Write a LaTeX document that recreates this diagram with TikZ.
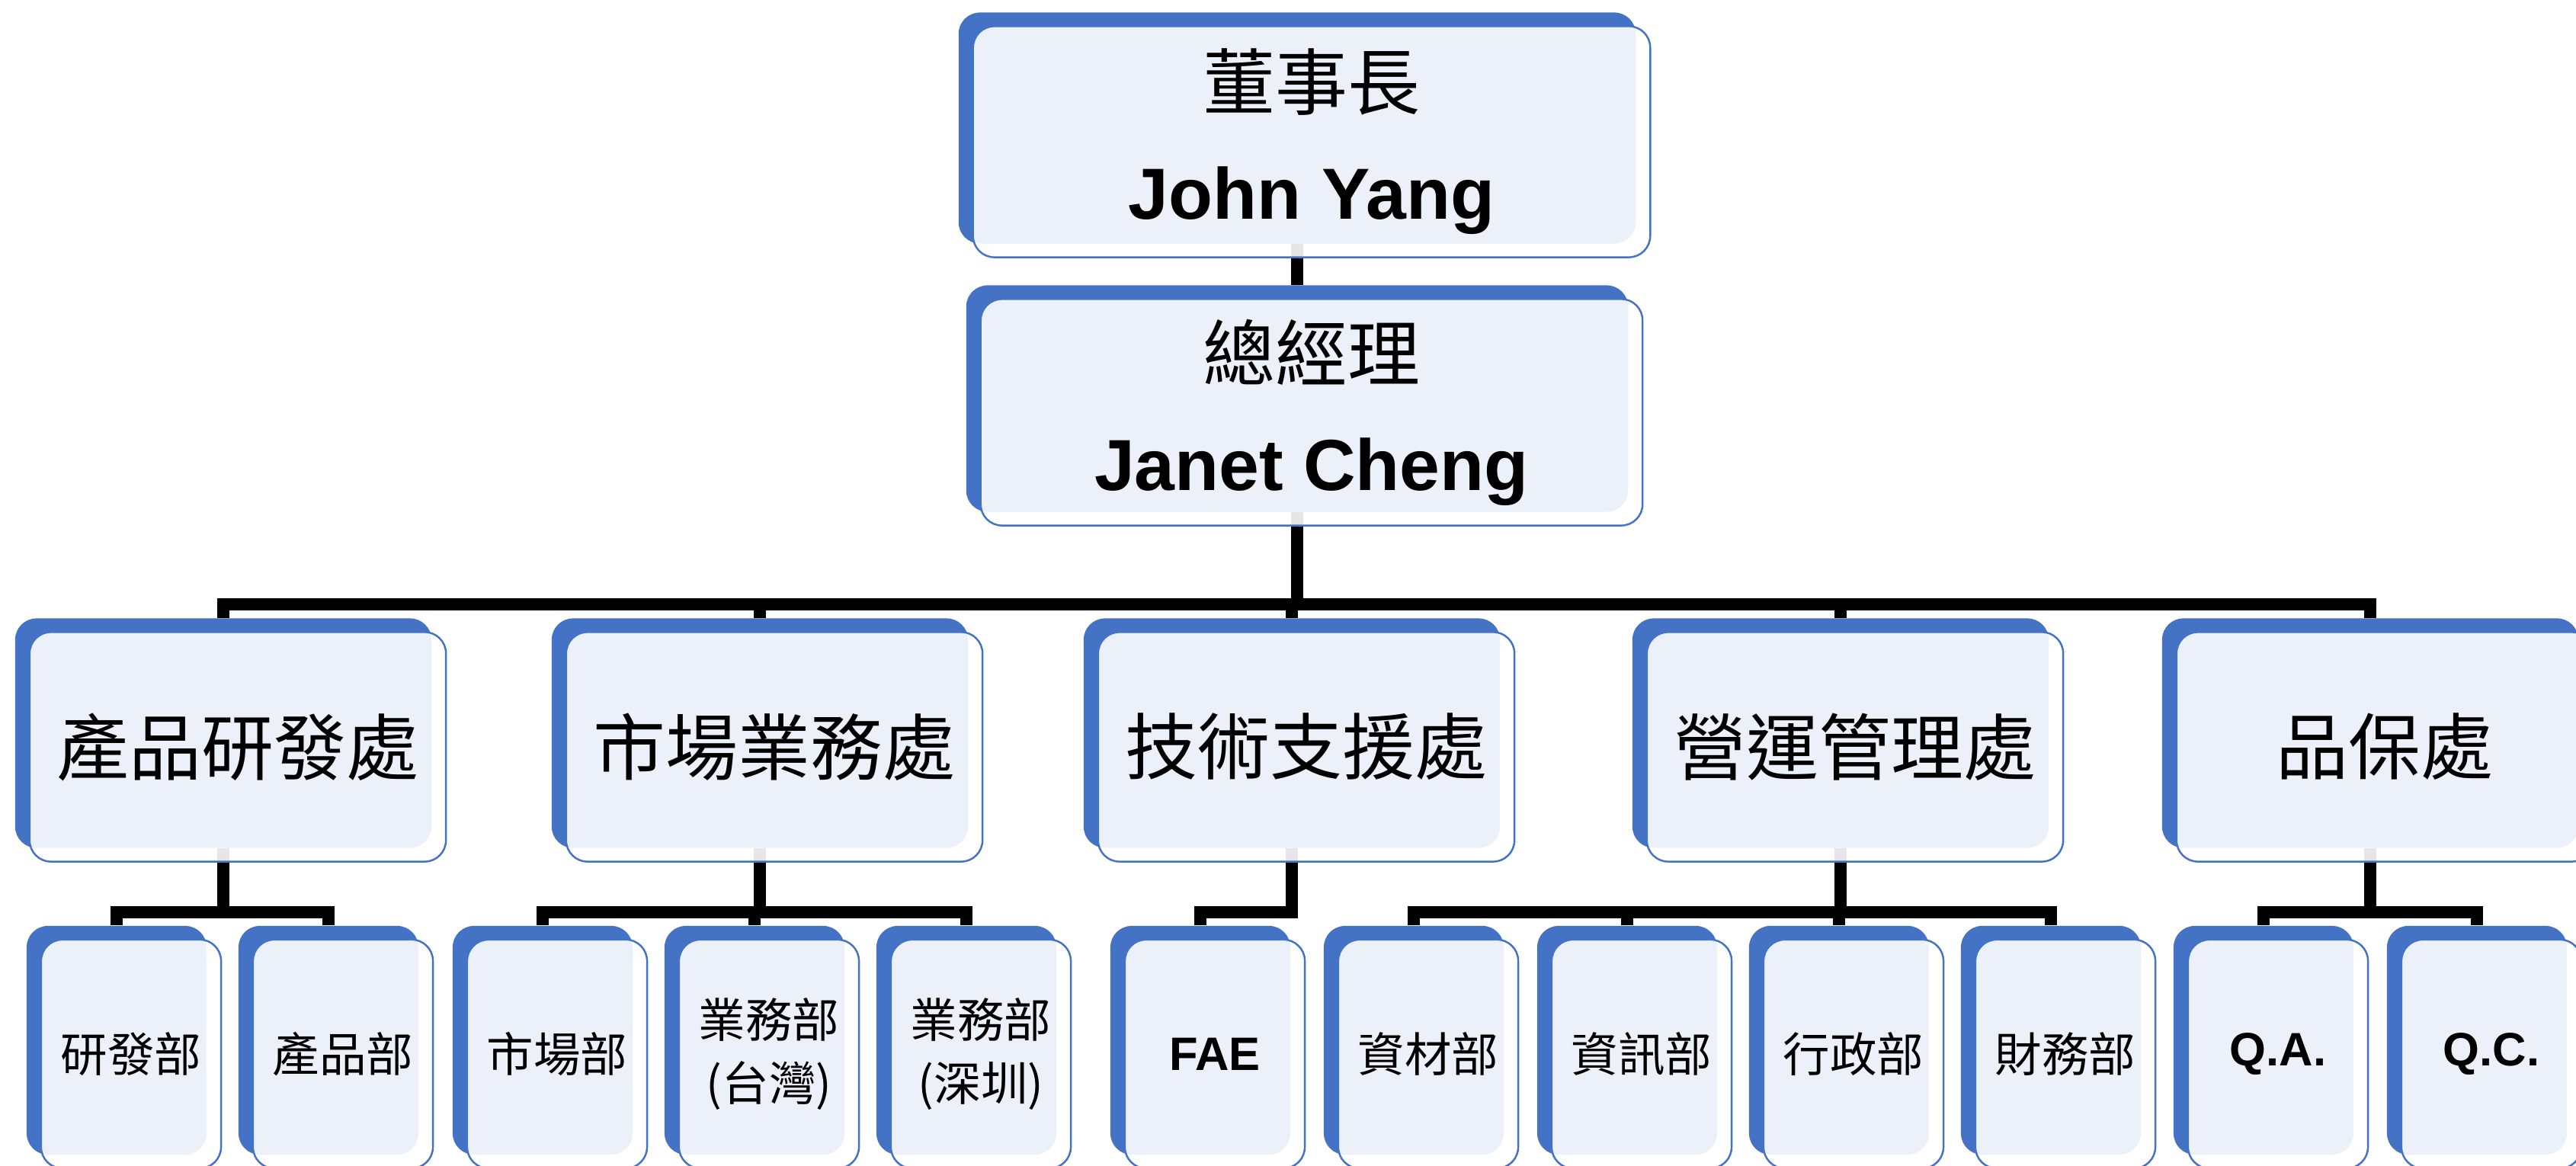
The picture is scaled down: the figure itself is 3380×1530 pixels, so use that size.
\documentclass[tikz,border=0pt]{standalone}
\usepackage{fontspec}
\setmainfont{Liberation Sans}
\newfontfamily\cjk{Noto Sans CJK TC}
\usetikzlibrary{calc}
\definecolor{boxblue}{HTML}{4472C4}
\pgfdeclarelayer{back}
\pgfdeclarelayer{links}
\pgfsetlayers{back,links,main}
\tikzset{
  blueback/.style={fill=boxblue, draw=none, rounded corners=0.28cm, inner sep=0pt, rectangle},
  frontbox/.style={fill=white, fill opacity=0.9, text opacity=1, draw=boxblue, line width=0.7pt,
    rounded corners=0.28cm, inner sep=0pt, rectangle, align=center, text=black},
  bigtext/.style={font=\fontsize{27pt}{41pt}\selectfont},
  smalltext/.style={font=\fontsize{17.5pt}{23.5pt}\selectfont},
  conn/.style={line width=0.16cm, draw=black},
}
\newcommand\orgbox[7]{%
  \begin{pgfonlayer}{back}
    \node[blueback, minimum width=#4, minimum height=#5] (b#1) at (#2,#3) {};
  \end{pgfonlayer}
  \node[frontbox, #6, minimum width=#4, minimum height=#5] (#1) at ($(b#1)+(19,18)$) {#7};
}
\begin{document}
\begin{tikzpicture}[x=0.01cm, y=-0.01cm]
\clip (0,0) rectangle (3380,1530);
% top
\orgbox{ch}{1702}{168}{8.88cm}{3.03cm}{bigtext}{{\cjk 董事長}\\{\bfseries John Yang}}
\orgbox{gm}{1702}{523}{8.68cm}{2.97cm}{bigtext}{{\cjk 總經理}\\{\bfseries Janet Cheng}}
% divisions
\orgbox{d1}{293}{962}{5.46cm}{3.01cm}{bigtext}{\cjk 產品研發處}
\orgbox{d2}{997}{962}{5.46cm}{3.01cm}{bigtext}{\cjk 市場業務處}
\orgbox{d3}{1695}{962}{5.46cm}{3.01cm}{bigtext}{\cjk 技術支援處}
\orgbox{d4}{2415}{962}{5.46cm}{3.01cm}{bigtext}{\cjk 營運管理處}
\orgbox{d5}{3110}{962}{5.46cm}{3.01cm}{bigtext}{\cjk 品保處}
% units
\orgbox{u1}{153}{1365}{2.36cm}{3.00cm}{smalltext}{\cjk 研發部}
\orgbox{u2}{431}{1365}{2.36cm}{3.00cm}{smalltext}{\cjk 產品部}
\orgbox{u3}{712}{1365}{2.36cm}{3.00cm}{smalltext}{\cjk 市場部}
\orgbox{u4}{990}{1365}{2.36cm}{3.00cm}{smalltext}{{\cjk 業務部}\\{\cjk (台灣)}}
\orgbox{u5}{1268}{1365}{2.36cm}{3.00cm}{smalltext}{{\cjk 業務部}\\{\cjk (深圳)}}
\orgbox{u6}{1575}{1365}{2.36cm}{3.00cm}{smalltext}{\bfseries FAE}
\orgbox{u7}{1855}{1365}{2.36cm}{3.00cm}{smalltext}{\cjk 資材部}
\orgbox{u8}{2135}{1365}{2.36cm}{3.00cm}{smalltext}{\cjk 資訊部}
\orgbox{u9}{2413}{1365}{2.36cm}{3.00cm}{smalltext}{\cjk 行政部}
\orgbox{u10}{2691}{1365}{2.36cm}{3.00cm}{smalltext}{\cjk 財務部}
\orgbox{u11}{2970}{1365}{2.36cm}{3.00cm}{smalltext}{\bfseries Q.A.}
\orgbox{u12}{3250}{1365}{2.36cm}{3.00cm}{smalltext}{\bfseries Q.C.}
% connectors
\coordinate (barA) at (0,793);
\coordinate (barB) at (0,1197);
\begin{pgfonlayer}{links}
  \draw[conn] (bch.south) -- (bgm.north);
  \foreach \c in {d1,d2,d3,d4,d5}
    \draw[conn] (bgm.south) -- (bgm.south |- barA) -| (b\c.north);
  \foreach \p/\c in {d1/u1,d1/u2,d2/u3,d2/u4,d2/u5,d3/u6,d4/u7,d4/u8,d4/u9,d4/u10,d5/u11,d5/u12}
    \draw[conn] (b\p.south) -- (b\p.south |- barB) -| (b\c.north);
\end{pgfonlayer}
\end{tikzpicture}
\end{document}
